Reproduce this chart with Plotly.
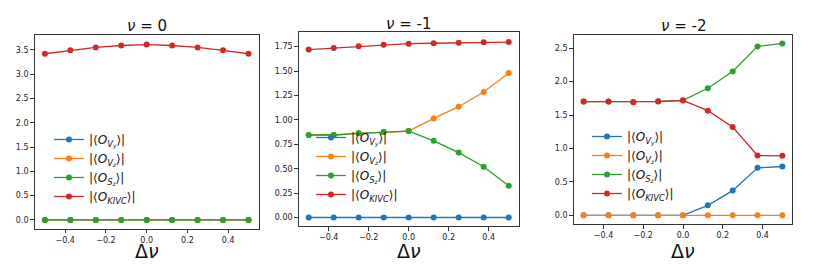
import plotly.graph_objects as go

# ---- data ----
dnu = [-0.5, -0.375, -0.25, -0.125, 0.0, 0.125, 0.25, 0.375, 0.5]

# nu = 0
p0_Vy = [0, 0, 0, 0, 0, 0, 0, 0, 0]
p0_Vz = [0, 0, 0, 0, 0, 0, 0, 0, 0]
p0_Sz = [0, 0, 0, 0, 0, 0, 0, 0, 0]
p0_KIVC = [3.42, 3.49, 3.55, 3.59, 3.61, 3.59, 3.55, 3.49, 3.42]

# nu = -1
p1_Vy = [0, 0, 0, 0, 0, 0, 0, 0, 0]
p1_Vz = [0.845, 0.845, 0.862, 0.875, 0.885, 1.015, 1.135, 1.285, 1.48]
p1_Sz = [0.845, 0.845, 0.862, 0.875, 0.885, 0.785, 0.665, 0.52, 0.325]
p1_KIVC = [1.72, 1.737, 1.753, 1.77, 1.78, 1.785, 1.79, 1.795, 1.797]

# nu = -2
p2_Vy = [0, 0, 0, 0, 0, 0.15, 0.37, 0.71, 0.73]
p2_Vz = [0, 0, 0, 0, 0, 0, 0, 0, 0]
p2_Sz = [1.70, 1.70, 1.695, 1.705, 1.72, 1.90, 2.15, 2.525, 2.57]
p2_KIVC = [1.70, 1.70, 1.69, 1.70, 1.717, 1.565, 1.32, 0.895, 0.89]

titles = ["<i>ν</i> = 0", "<i>ν</i> = -1", "<i>ν</i> = -2"]
xlabel = "Δ<i>ν</i>"
names = [
    "|⟨<i>O</i><sub><i>V<sub>y</sub></i></sub>⟩|",
    "|⟨<i>O</i><sub><i>V<sub>z</sub></i></sub>⟩|",
    "|⟨<i>O</i><sub><i>S<sub>z</sub></i></sub>⟩|",
    "|⟨<i>O</i><sub><i>KIVC</i></sub>⟩|",
]
colors = ["#1f77b4", "#ff7f0e", "#2ca02c", "#d62728"]

panels = [
    [p0_Vy, p0_Vz, p0_Sz, p0_KIVC],
    [p1_Vy, p1_Vz, p1_Sz, p1_KIVC],
    [p2_Vy, p2_Vz, p2_Sz, p2_KIVC],
]

W, H = 830, 277
# pixel boxes: (left, right, top, bottom)
boxes = [(26.7, 250.7, 27.3, 220.7), (290.7, 510.7, 24.0, 218.3), (565.7, 784.3, 26.7, 216.0)]
title_y = [18, 16, 18]
yranges = [[-0.181, 3.80], [-0.09, 1.90], [-0.129, 2.70]]
ydticks = [0.5, 0.25, 0.5]
yformats = [".1f", ".2f", ".1f"]
legend_pos = [(41, 117), (303, 115), (579, 114)]

fig = go.Figure()
font = "DejaVu Sans"

for i, series in enumerate(panels):
    xa = "x" if i == 0 else f"x{i+1}"
    ya = "y" if i == 0 else f"y{i+1}"
    lg = "legend" if i == 0 else f"legend{i+1}"
    for j, vals in enumerate(series):
        fig.add_trace(go.Scatter(
            x=dnu, y=vals, mode="lines+markers", name=names[j],
            line=dict(color=colors[j], width=1.3),
            marker=dict(color=colors[j], size=6),
            xaxis=xa, yaxis=ya, legend=lg, showlegend=True,
        ))

layout = dict(
    width=W, height=H, margin=dict(l=0, r=0, t=0, b=0),
    paper_bgcolor="white", plot_bgcolor="white",
    font=dict(family=font, color="#222"),
    showlegend=True,
)

axis_common = dict(
    showline=True, linecolor="#333", linewidth=1, mirror=True,
    ticks="outside", ticklen=3.5, tickwidth=0.8, tickcolor="#333",
    showgrid=False, zeroline=False, tickfont=dict(size=8, family=font, color="#222"),
)

annotations = []
for i, (l, r, t, b) in enumerate(boxes):
    sfx = "" if i == 0 else str(i + 1)
    layout["xaxis" + sfx] = dict(
        axis_common, domain=[l / W, r / W], range=[-0.55, 0.55],
        tickvals=[-0.4, -0.2, 0.0, 0.2, 0.4], tickformat=".1f",
        anchor="y" + sfx,
    )
    layout["yaxis" + sfx] = dict(
        axis_common, domain=[1 - b / H, 1 - t / H], range=yranges[i],
        dtick=ydticks[i], tick0=0, tickformat=yformats[i], anchor="x" + sfx,
    )
    annotations.append(dict(
        text=titles[i], x=(l + r) / 2 / W, y=1 - title_y[i] / H, xref="paper", yref="paper",
        xanchor="center", yanchor="middle", showarrow=False,
        font=dict(size=15, family=font, color="#111"),
    ))
    annotations.append(dict(
        text=xlabel, x=(l + r) / 2 / W, y=1 - 243 / H, xref="paper", yref="paper",
        xanchor="center", yanchor="middle", showarrow=False,
        font=dict(size=19, family=font, color="#111"),
    ))
    lx, ly = legend_pos[i]
    layout["legend" if i == 0 else f"legend{i+1}"] = dict(
        x=lx / W, y=1 - ly / H, xanchor="left", yanchor="top",
        bgcolor="rgba(0,0,0,0)", borderwidth=0,
        font=dict(size=12, family=font, color="#111"),
        tracegroupgap=0, itemwidth=30,
    )

layout["annotations"] = annotations
fig.update_layout(**layout)
fig.write_html("out.html")
